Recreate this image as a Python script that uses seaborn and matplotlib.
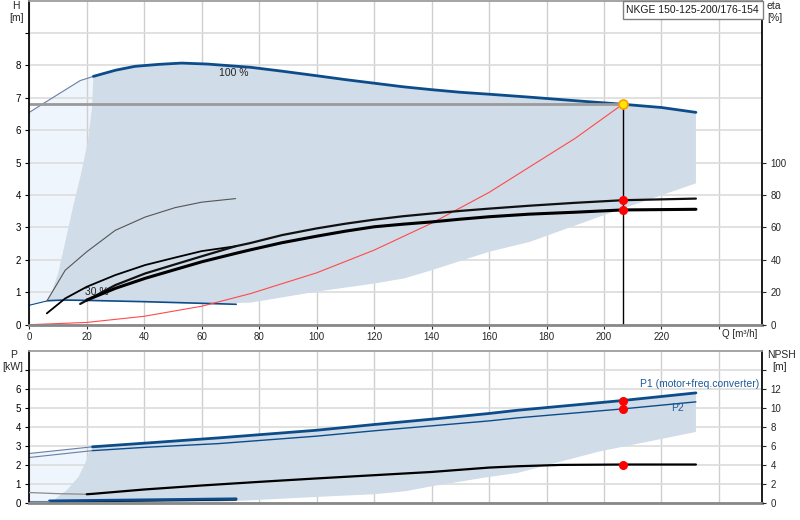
import numpy as np
import matplotlib
matplotlib.use("Agg")
import matplotlib.pyplot as plt
import seaborn as sns

# ---- Q-H at 100 % speed (Q in m3/h, H in m)
q_max = [22.3, 30, 36.8, 45, 53, 62, 71, 77, 88, 100, 110, 120, 130, 140, 150, 160, 174, 190, 206.5, 220, 232]
h_max = [7.66, 7.85, 7.97, 8.03, 8.07, 8.04, 7.98, 7.94, 7.82, 7.68, 7.56, 7.45, 7.34, 7.25, 7.17, 7.11,
         7.02, 6.91, 6.80, 6.70, 6.55]
# thin extension left of the 100 % curve
q_ext = [0, 9, 17.7, 22.3]
h_ext = [6.55, 7.05, 7.53, 7.66]
# Q-H at 30 % speed
q_min = [0, 6.5, 12, 20, 40, 60, 72]
h_min = [0.60, 0.74, 0.76, 0.75, 0.71, 0.66, 0.63]
# lower and left edges of the operating range (top chart)
q_lo = [6.5, 20, 40, 60, 77, 100, 120, 130.6, 140, 160, 174, 200, 232]
h_lo = [0.74, 0.74, 0.70, 0.65, 0.68, 1.02, 1.27, 1.43, 1.68, 2.25, 2.55, 3.38, 4.36]
q_edge = [6.5, 7.6, 10, 12.6, 15.2, 18, 20.4, 21.8, 22.3]
h_edge = [0.76, 0.97, 1.58, 2.6, 3.63, 4.66, 5.68, 6.7, 7.66]

# system curve
q_sys = [0, 20, 40, 60, 77, 100, 120, 140, 160, 174, 190, 206.5]
h_sys = [0, 0.07, 0.26, 0.57, 0.96, 1.6, 2.3, 3.13, 4.08, 4.86, 5.75, 6.8]

# duty point
q_duty = 206.5
h_duty = 6.8

# efficiency curves (eta in %)
q_eta1 = [17.7, 29.9, 40.3, 50.7, 60, 71.8, 77, 88, 100, 110, 120, 130, 140, 150, 160, 174, 190, 206.5, 232]
eta1 = [12.8, 24.4, 31.6, 37.2, 42.2, 48.4, 50.4, 55.3, 59.4, 62.3, 64.8, 66.9, 68.6, 70.2, 71.6, 73.4,
        75.2, 76.8, 77.8]
q_eta2 = [20, 29.9, 40.3, 50.7, 60, 71.8, 77, 88, 100, 110, 120, 130, 140, 150, 160, 174, 190, 206.5, 232]
eta2 = [15.2, 22.4, 28.6, 34.0, 38.8, 44.0, 46.2, 50.6, 54.6, 57.7, 60.4, 62.0, 63.4, 65.1, 66.6, 68.2,
        69.4, 70.8, 71.2]
q_eta3 = [6.1, 12.5, 20, 29.9, 40.3, 50.7, 60, 71.8]
eta3 = [7.0, 16.2, 23.4, 30.6, 36.8, 41.4, 45.4, 48.4]
q_eta4 = [6.1, 12.5, 20, 29.9, 40.3, 50.7, 60, 71.8]
eta4 = [14.6, 33.6, 45.0, 58.2, 66.4, 72.2, 75.6, 77.8]
eta_duty = [76.8, 70.8]

# ---- power (kW) and NPSH (m)
q_p = [22, 40, 66, 100, 120, 140, 160, 170, 206.5, 232]
p1 = [2.96, 3.15, 3.43, 3.83, 4.13, 4.41, 4.71, 4.88, 5.39, 5.79]
q_p1_ext = [0, 22]
p1_ext = [2.61, 2.96]
q_p2 = [0, 22, 40, 66, 100, 120, 140, 160, 170, 206.5, 232]
p2 = [2.40, 2.76, 2.93, 3.13, 3.52, 3.80, 4.06, 4.32, 4.48, 4.95, 5.32]
q_npsh = [20, 22, 40, 60, 80, 100, 120, 140, 160, 170, 185, 206.5, 232]
npsh = [0.94, 0.98, 1.44, 1.86, 2.24, 2.60, 2.94, 3.28, 3.74, 3.88, 4.02, 4.06, 4.06]
q_npsh_ext = [0, 10, 20]
npsh_ext = [1.12, 1.0, 0.94]
q_p30 = [7, 72]
p1_30 = [0.12, 0.23]
p2_30 = [0.08, 0.19]
q_plo = [7.3, 40, 66, 100, 120, 131, 140, 160, 170, 198, 232]
p_lo = [0.03, 0.03, 0.07, 0.33, 0.47, 0.63, 0.89, 1.38, 1.59, 2.7, 3.74]
q_pedge = [7.3, 13, 17.1, 19.4, 20.6, 22]
p_edge = [0.03, 0.68, 1.38, 2.08, 2.6, 2.96]
p_duty = [5.39, 4.95]
npsh_duty = 4.06

title = "NKGE 150-125-200/176-154"

sns.set_theme(style="white")
plt.rcParams['font.family'] = ['Liberation Sans', 'DejaVu Sans']
plt.rcParams['font.size'] = 7

DARK = "#d0dce8"
LIGHT = "#eef5fc"
BLUE = "#0d4c8a"
THIN = "#6a7fa5"
GRIDV = "#cfcfcf"
GRIDH = "#dcdcdc"


def line(ax, x, y, **kw):
    sns.lineplot(x=x, y=y, ax=ax, estimator=None, sort=False, legend=False, **kw)


fig = plt.figure(figsize=(8, 5.2), dpi=100)
ax1 = fig.add_axes([29.3 / 800, 1 - 324.7 / 520, 732.7 / 800, 324.7 / 520 - 0.001])
ax3 = fig.add_axes([29.3 / 800, 1 - 503.2 / 520, 732.7 / 800, 152.4 / 520])

for ax in (ax1, ax3):
    ax.set_xlim(0, 255)
    ax.set_xticks(np.arange(0, 241, 20))
    ax.grid(axis='x', color=GRIDV, lw=1)
    ax.grid(axis='y', color=GRIDH, lw=1.2)
    ax.spines['left'].set_color('black')
    ax.spines['right'].set_color('black')
    ax.spines['top'].set_color('#999999')
    ax.spines['bottom'].set_color('#888888')
    ax.spines['bottom'].set_linewidth(2)
    for s in ax.spines.values():
        s.set_visible(True)
    ax.tick_params(axis='y', length=3, width=0.8, pad=3, colors='black', labelsize=7, left=True)

# ---------------- top chart
ax1.set_ylim(0, 10)
ax1.set_yticks(range(0, 10))
ax1.set_yticklabels([str(i) for i in range(0, 9)] + [''])
ax1.set_xticklabels([str(i) for i in range(0, 221, 20)] + [''])
ax1.tick_params(axis='x', length=3, width=0.8, pad=2, labelsize=7, bottom=True)
ax1.text(241, -0.29, "Q [m³/h]", ha='left', va='center', fontsize=7)

# operating area shading
ax1.fill(q_ext + q_edge[::-1] + q_min[1::-1], h_ext + h_edge[::-1] + h_min[1::-1],
         color=LIGHT, lw=0, zorder=0.5)
ax1.fill(q_max + q_lo[::-1] + q_edge, h_max + h_lo[::-1] + h_edge,
         color=DARK, lw=0, zorder=0.6)

line(ax1, q_ext, h_ext, color=THIN, linewidth=0.8)
line(ax1, q_max, h_max, color=BLUE, linewidth=2)
line(ax1, q_min[:2], h_min[:2], color=BLUE, linewidth=0.8)
line(ax1, q_min[1:], h_min[1:], color=BLUE, linewidth=1.2)
line(ax1, q_sys, h_sys, color='#ff4a4a', linewidth=0.8)
line(ax1, [0, q_duty], [h_duty, h_duty], color='#9a9a9a', linewidth=2)
line(ax1, [q_duty, q_duty], [0, h_duty], color='black', linewidth=1)
ax1.text(71, 7.77, "100 %", ha='center', va='center', fontsize=7.5, color='#222222')
ax1.text(23.6, 1.02, "30 %", ha='center', va='center', fontsize=7.5, color='#222222')

ax1.text(230.9, 9.71, title, ha='center', va='center', fontsize=7.5, color='#1a1a1a',
         bbox=dict(boxstyle='square,pad=0.35', fc='white', ec='#808080', lw=1), zorder=6)

ax2 = ax1.twinx()
ax2.set_ylim(0, 200)
ax2.set_yticks(range(0, 101, 20))
ax2.tick_params(axis='y', length=3, width=0.8, pad=3, labelsize=7, right=True)
ax2.grid(False)
for s in ax2.spines.values():
    s.set_visible(False)
line(ax2, q_eta4, eta4, color='#555555', linewidth=0.8)
line(ax2, q_eta3, eta3, color='black', linewidth=1.3)
line(ax2, q_eta1, eta1, color='#111111', linewidth=1.6)
line(ax2, q_eta2, eta2, color='black', linewidth=2.2)
ax2.plot([q_duty] * 2, eta_duty, 'o', color='#ff0000', ms=5.5, mec='#ff0000', zorder=5)
ax2.plot([q_duty], [h_duty * 20], 'o', ms=6.5, mfc='#ffe600', mec='#ff9a00', mew=1.2, zorder=7)

# ---------------- bottom chart
ax3.set_ylim(0, 8)
ax3.set_yticks(range(0, 8))
ax3.set_yticklabels([str(i) for i in range(0, 7)] + [''])
ax3.set_xticklabels([])
ax3.tick_params(axis='x', length=0)

ax3.fill(q_p1_ext + q_pedge[::-1] + [0], p1_ext + p_edge[::-1] + [0.12],
         color=LIGHT, lw=0, zorder=0.5)
ax3.fill(q_p + q_plo[::-1] + q_pedge, p1 + p_lo[::-1] + p_edge,
         color=DARK, lw=0, zorder=0.6)

line(ax3, q_p1_ext, p1_ext, color=THIN, linewidth=0.8)
line(ax3, q_p, p1, color=BLUE, linewidth=2)
line(ax3, q_p2[:2], p2[:2], color=THIN, linewidth=0.8)
line(ax3, q_p2[1:], p2[1:], color=BLUE, linewidth=1)
line(ax3, q_p30, p2_30, color='black', linewidth=1.5)
line(ax3, q_p30, p1_30, color=BLUE, linewidth=2)
line(ax3, [0, 7], [0.12, 0.12], color=THIN, linewidth=0.8)
ax3.plot([q_duty] * 2, p_duty, 'o', color='#ff0000', ms=5.5, mec='#ff0000', zorder=5)
ax3.text(254, 6.25, "P1 (motor+freq.converter)", ha='right', va='center', fontsize=7.5, color='#1f5a9a')
ax3.text(225.5, 5.0, "P2", ha='center', va='center', fontsize=7.5, color='#1f5a9a')

ax4 = ax3.twinx()
ax4.set_ylim(0, 16)
ax4.set_yticks(range(0, 15, 2))
ax4.set_yticklabels([str(i) for i in range(0, 13, 2)] + [''])
ax4.tick_params(axis='y', length=3, width=0.8, pad=3, labelsize=7, right=True)
ax4.grid(False)
for s in ax4.spines.values():
    s.set_visible(False)
line(ax4, q_npsh_ext, npsh_ext, color='#8a8a8a', linewidth=0.9)
line(ax4, q_npsh, npsh, color='black', linewidth=1.6)
ax4.plot([q_duty], [npsh_duty], 'o', color='#ff0000', ms=5.5, mec='#ff0000', zorder=5)

# axis titles
fig.text(16 / 800, 1 - 6 / 520, "H", ha='center', va='center', fontsize=7.5)
fig.text(17 / 800, 1 - 18 / 520, "[m]", ha='center', va='center', fontsize=7.5)
fig.text(774 / 800, 1 - 6 / 520, "eta", ha='center', va='center', fontsize=7.5)
fig.text(775 / 800, 1 - 18 / 520, "[%]", ha='center', va='center', fontsize=7.5)
fig.text(14 / 800, 1 - 355 / 520, "P", ha='center', va='center', fontsize=7.5)
fig.text(13 / 800, 1 - 367 / 520, "[kW]", ha='center', va='center', fontsize=7.5)
fig.text(781 / 800, 1 - 355 / 520, "NPSH", ha='center', va='center', fontsize=7.5)
fig.text(780 / 800, 1 - 367 / 520, "[m]", ha='center', va='center', fontsize=7.5)

fig.savefig("out.png", dpi=100)
